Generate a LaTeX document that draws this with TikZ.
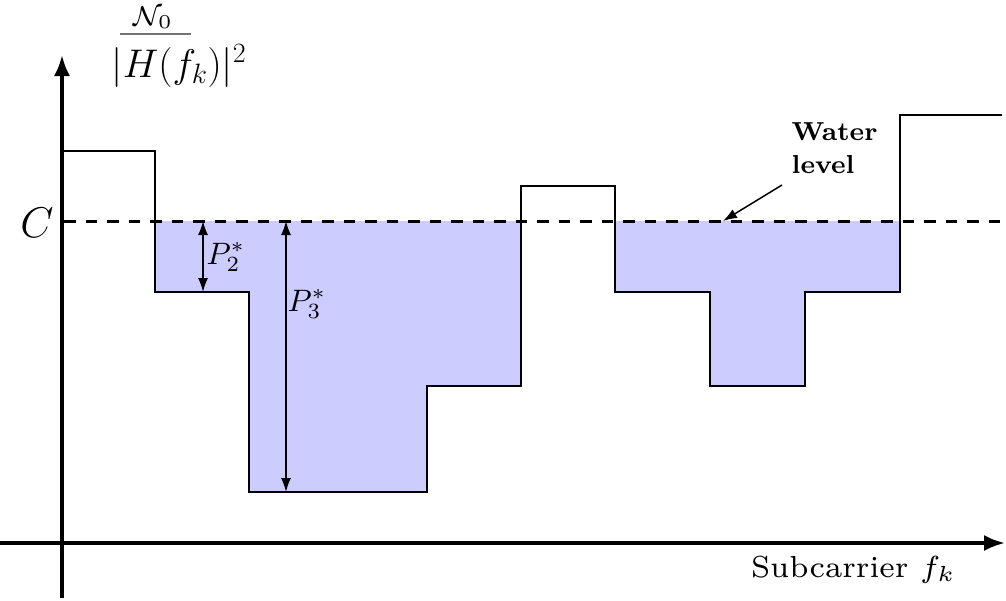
\RequirePackage{fix-cm}
\documentclass[tikz,border=0pt]{standalone}
\usetikzlibrary{arrows.meta}
\tikzset{
  axis/.style={line width=3.5pt,-{Latex[length=21pt,width=16pt]}},
  stepline/.style={line width=1.6pt},
  water/.style={fill=blue!20,draw=none},
  wlevel/.style={line width=3pt,dash pattern=on 11.5pt off 10pt},
  dim/.style={line width=1.5pt,{Latex[length=14pt,width=10pt]}-{Latex[length=14pt,width=10pt]}},
  pointer/.style={line width=1.5pt,-{Latex[length=14pt,width=10pt]}},
  lbl/.style={inner sep=0pt,transform shape},
}
\begin{document}
\begin{tikzpicture}[x=1pt,y=-1pt]
\useasboundingbox (0,0) rectangle (1006,600);
% water fill
\fill[water] (155,221) -- (155,292) -- (249,292) -- (249,492) -- (427,492) -- (427,386) -- (521,386) -- (521,221) -- cycle;
\fill[water] (615,221) -- (615,292) -- (710,292) -- (710,386) -- (805,386) -- (805,292) -- (900,292) -- (900,221) -- cycle;
% water level
\draw[wlevel] (64,221) -- (1004,221);
% steps
\draw[stepline] (62,151) -- (155,151) -- (155,292) -- (249,292) -- (249,492) -- (427,492) -- (427,386) -- (521,386) -- (521,186) -- (615,186) -- (615,292) -- (710,292) -- (710,386) -- (805,386) -- (805,292) -- (900,292) -- (900,115) -- (1002,115);
% axes
\coordinate (yfrom) at (62,598);
\coordinate (yto) at (62,55);
\coordinate (xfrom) at (0,543);
\coordinate (xto) at (1005,543);
\draw[axis] (yfrom) -- (yto);
\draw[axis] (xfrom) -- (xto);
% labels
\node[anchor=base,inner sep=0pt] (cl) at (37,237) {\fontsize{43}{50}\selectfont $C$};
\node[lbl,scale=3.9,anchor=base] (num) at (153,25) {$\scriptstyle\mathcal{N}_0$};
\coordinate (barl) at (120,34);
\coordinate (barr) at (191,34);
\draw[line width=2pt,black!55] (barl) -- (barr);
\node[anchor=base,inner sep=0pt] (den) at (179,77) {\fontsize{40}{46}\selectfont $|H(f_k)|^2$};
\node[lbl,scale=4.35,anchor=base east] (sub) at (957,577) {\scriptsize Subcarrier $f_k$};
% power arrows
\coordinate (p2t) at (203,221);
\coordinate (p2b) at (203,292);
\draw[dim] (p2t) -- (p2b);
\node[lbl,scale=3.1,anchor=base west] (p2) at (206,264) {$P_2^*$};
\coordinate (p3t) at (286,221);
\coordinate (p3b) at (286,492);
\draw[dim] (p3t) -- (p3b);
\node[lbl,scale=3.1,anchor=base west] (p3) at (287,311) {$P_3^*$};
% water level label
\node[lbl,scale=3.25,anchor=north west,align=left,font=\fontsize{8}{10.2}\selectfont\bfseries] (wl) at (791,122) {Water\\level};
\coordinate (wlfrom) at (782,185);
\coordinate (wlto) at (723,221);
\draw[pointer] (wlfrom) -- (wlto);
\end{tikzpicture}
\end{document}
